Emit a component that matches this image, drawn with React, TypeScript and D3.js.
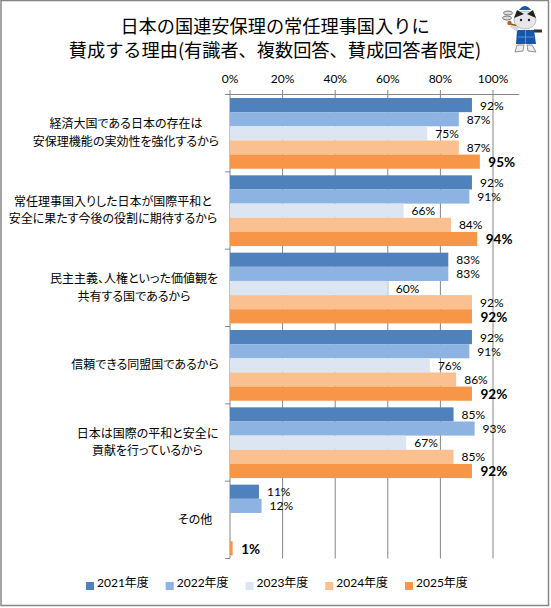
import { FC } from "react";
import * as d3 from "d3";

const WIDTH = 551;
const HEIGHT = 608;
const JP = "'Noto Sans CJK JP', sans-serif";
const LATIN = "Lato, 'Noto Sans CJK JP', sans-serif";

const titleLines = ["日本の国連安保理の常任理事国入りに", "賛成する理由(有識者、複数回答、賛成回答者限定)"];

const categories = [
  ["経済大国である日本の存在は", "安保理機能の実効性を強化するから"],
  ["常任理事国入りした日本が国際平和と", "安全に果たす今後の役割に期待するから"],
  ["民主主義、人権といった価値観を", "共有する国であるから"],
  ["信頼できる同盟国であるから"],
  ["日本は国際の平和と安全に", "貢献を行っているから"],
  ["その他"],
];
// horizontal centre of each label block, they sit right-aligned against the axis
const labelCenters = [126, 113, 134, 145, 147.5, 195];

const years = ["2021年度", "2022年度", "2023年度", "2024年度", "2025年度"];
const colors = ["#4f81bd", "#8db3e2", "#dce6f2", "#fac090", "#f79646"];

const values2021 = [92, 92, 83, 92, 85, 11];
const values2022 = [87, 91, 83, 91, 93, 12];
const values2023 = [75, 66, 60, 76, 67, null];
const values2024 = [87, 84, 92, 86, 85, null];
const values2025 = [95, 94, 92, 92, 92, 1];
const series = [values2021, values2022, values2023, values2024, values2025];

const xTicks = [0, 20, 40, 60, 80, 100];

const x = d3.scaleLinear().domain([0, 110]).range([230, 519.3]);
const y = d3
  .scaleBand<number>()
  .domain(d3.range(categories.length))
  .range([94.5, 558.5]);
const inner = d3
  .scaleBand<number>()
  .domain(d3.range(years.length))
  .range([3.5, y.bandwidth() - 3.1]);
const legendX = d3
  .scalePoint<string>()
  .domain(years)
  .range([86, 405]);

const GRID = "#868686";

// small mascot in the top right corner
const Mascot: FC = () => (
  <g transform="translate(480,0)">
    <ellipse cx={28} cy={13} rx={4.5} ry={2} fill="#ddd" stroke="#777" strokeWidth={1} />
    <ellipse cx={27} cy={18} rx={4.5} ry={2} fill="#ddd" stroke="#777" strokeWidth={1} />
    <path d="M54 31L62 31" stroke="#333" strokeWidth={3} />
    <path d="M37 45L35 52L43 51L44 45ZM47 45L48 51L56 52L52 45Z" fill="#eee" stroke="#777" strokeWidth={0.8} />
    <path d="M37 30L54 30L56 44L36 44Z" fill="#1557a8" />
    <path d="M45.500 30V44M38 37H54" stroke="#6ea3dc" strokeWidth={0.8} />
    <path d="M38 30L31 25" stroke="#d8d8dc" strokeWidth={4} />
    <path d="M40 26L30 24" stroke="#8a5a2b" strokeWidth={1.5} />
    <circle cx={29.500} cy={23} r={2.2} fill="#b0622a" />
    <ellipse cx={45} cy={20} rx={11} ry={9} fill="#e6e6ec" stroke="#888" strokeWidth={0.5} />
    <path d="M34 18L37 10L44 14ZM56 18L53 10L47 14Z" fill="#222" />
    <path d="M39 10Q45 2 51 10Z" fill="#1d5a9c" />
    <circle cx={41} cy={20} r={1.2} fill="#222" />
    <circle cx={49} cy={20} r={1.2} fill="#222" />
  </g>
);

const App: FC = () => (
  <svg
    width={WIDTH}
    height={HEIGHT}
    style={{ position: "absolute", left: 0, top: 0, background: "#fff" }}
  >
    <rect x={1} y={0.5} width={547.5} height={605} fill="#fff" stroke={GRID} strokeWidth={1.5} />

    {titleLines.map((line, i) => (
      <text key={i} x={275} y={33 + i * 23.5} textAnchor="middle" fontFamily={JP} fontSize={18.2} fill="#000">
        {line}
      </text>
    ))}
    <Mascot />

    {xTicks.map((t) => (
      <g key={t}>
        <line x1={x(t)} x2={x(t)} y1={90} y2={558.5} stroke={GRID} />
        <text x={x(t)} y={83} textAnchor="middle" fontFamily={LATIN} fontSize={12} fill="#000">
          {t}%
        </text>
      </g>
    ))}
    <line x1={225} x2={x(110)} y1={94.5} y2={94.5} stroke={GRID} />
    {d3.range(categories.length + 1).map((i) => {
      const py = 94.5 + i * y.step();
      return <line key={i} x1={225} x2={230} y1={py} y2={py} stroke={GRID} />;
    })}

    {series.map((vals, s) =>
      vals.map((v, c) =>
        v === null ? null : (
          <rect
            key={`${s}-${c}`}
            x={x(0)}
            y={y(c)! + inner(s)!}
            width={x(v) - x(0)}
            height={inner.bandwidth()}
            fill={colors[s]}
          />
        )
      )
    )}

    {series.map((vals, s) =>
      vals.map((v, c) =>
        v === null ? null : (
          <text
            key={`${s}-${c}`}
            x={x(v) + (s === 4 ? 8.5 : 8)}
            y={y(c)! + inner(s)! + inner.bandwidth() / 2 + (s === 4 ? 5.5 : 4.5)}
            fontFamily={LATIN}
            fontSize={s === 4 ? 13.5 : 12}
            fontWeight={s === 4 ? 700 : 400}
            fill="#000"
          >
            {v}%
          </text>
        )
      )
    )}

    {categories.map((lines, c) => {
      const cy = y(c)! + y.bandwidth() / 2;
      return lines.map((line, i) => (
        <text
          key={i}
          x={labelCenters[c]}
          y={cy + 4 + (i - (lines.length - 1) / 2) * 17.5}
          textAnchor="middle"
          fontFamily={JP}
          fontSize={12}
          style={{ fontFeatureSettings: "'palt'" }}
          fill="#000"
        >
          {line}
        </text>
      ));
    })}

    {years.map((yr, i) => (
      <g key={yr}>
        <rect x={legendX(yr)} y={582} width={8} height={8} fill={colors[i]} />
        <text x={legendX(yr)! + 11} y={587} fontFamily={LATIN} fontSize={12} fill="#000">
          {yr}
        </text>
      </g>
    ))}
  </svg>
);

export default App;
